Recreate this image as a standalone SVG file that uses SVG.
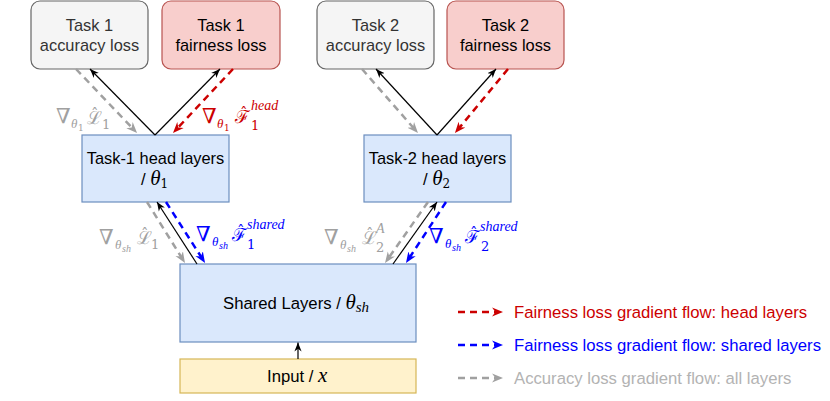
<svg xmlns="http://www.w3.org/2000/svg" width="830" height="401" viewBox="0 0 830 401">
<defs>
<style>
.lbl{font-family:"Liberation Sans",Arial,sans-serif;font-size:16.4px;text-anchor:middle}
.leg{font-family:"Liberation Sans",Arial,sans-serif;font-size:16.7px}
.m{font-family:"DejaVu Serif","Liberation Serif",serif}
.sc{font-family:"DejaVu Serif",serif}
.it{font-family:"Liberation Serif","DejaVu Serif",serif;font-style:italic}
.hat{font-family:"DejaVu Serif",serif;font-size:15px}
.gbox{fill:#f5f5f5;stroke:#666666;stroke-width:1.2}
.rbox{fill:#f8cecc;stroke:#b85450;stroke-width:1.2}
.bbox{fill:#dae8fc;stroke:#6c8ebf;stroke-width:1.2}
.ybox{fill:#fff2cc;stroke:#d6b656;stroke-width:1.2}
.blk{stroke:#000;stroke-width:1.2;fill:none;marker-end:url(#mk)}
.dg{stroke:#a0a0a0;stroke-width:2.5;stroke-dasharray:7 5;fill:none;marker-end:url(#mg)}
.dr{stroke:#cc0000;stroke-width:2.5;stroke-dasharray:7 5;fill:none;marker-end:url(#mr)}
.db{stroke:#0000ff;stroke-width:2.5;stroke-dasharray:7 5;fill:none;marker-end:url(#mb)}
.cg{fill:#a0a0a0}
.cr{fill:#cc0000}
.cb{fill:#0000ff}
</style>
<marker id="mk" viewBox="0 0 10 10" refX="10" refY="5" markerWidth="9" markerHeight="9" markerUnits="userSpaceOnUse" orient="auto"><path d="M0,1 L10,5 L0,9 L3,5 z" fill="#000"/></marker>
<marker id="mg" viewBox="0 0 10 10" refX="4.5" refY="5" markerWidth="11" markerHeight="11" markerUnits="userSpaceOnUse" orient="auto"><path d="M0,1 L10,5 L0,9 L3,5 z" fill="#a0a0a0"/></marker>
<marker id="mr" viewBox="0 0 10 10" refX="4.5" refY="5" markerWidth="11" markerHeight="11" markerUnits="userSpaceOnUse" orient="auto"><path d="M0,1 L10,5 L0,9 L3,5 z" fill="#cc0000"/></marker>
<marker id="mb" viewBox="0 0 10 10" refX="4.5" refY="5" markerWidth="11" markerHeight="11" markerUnits="userSpaceOnUse" orient="auto"><path d="M0,1 L10,5 L0,9 L3,5 z" fill="#0000ff"/></marker>
</defs>
<rect width="830" height="401" fill="#fff"/>

<g id="t1acc"><rect class="gbox" x="31" y="1" width="117" height="68" rx="9"/>
<text class="lbl" fill="#333"><tspan x="89.5" y="31">Task 1</tspan><tspan x="89.5" y="51">accuracy loss</tspan></text></g>
<g id="t1fair"><rect class="rbox" x="162" y="1" width="118" height="68" rx="9"/>
<text class="lbl" fill="#000"><tspan x="221" y="31">Task 1</tspan><tspan x="221" y="51">fairness loss</tspan></text></g>
<g id="t2acc"><rect class="gbox" x="317" y="1" width="117" height="68" rx="9"/>
<text class="lbl" fill="#333"><tspan x="375.5" y="31">Task 2</tspan><tspan x="375.5" y="51">accuracy loss</tspan></text></g>
<g id="t2fair"><rect class="rbox" x="447" y="1" width="117" height="68" rx="9"/>
<text class="lbl" fill="#000"><tspan x="505.5" y="31">Task 2</tspan><tspan x="505.5" y="51">fairness loss</tspan></text></g>

<g id="t1head"><rect class="bbox" x="82" y="135" width="147" height="67"/>
<text class="lbl" x="155.5" y="164">Task-1 head layers</text>
<text x="141" y="185"><tspan class="leg">/ </tspan><tspan class="it" font-size="21">θ</tspan><tspan class="m" font-size="12" dy="3">1</tspan></text></g>
<g id="t2head"><rect class="bbox" x="364" y="135" width="147" height="67"/>
<text class="lbl" x="437.5" y="164">Task-2 head layers</text>
<text x="423" y="185"><tspan class="leg">/ </tspan><tspan class="it" font-size="21">θ</tspan><tspan class="m" font-size="12" dy="3">2</tspan></text></g>

<g id="shared"><rect class="bbox" x="180" y="264" width="236" height="78"/>
<text x="223" y="309"><tspan class="leg">Shared Layers / </tspan><tspan class="it" font-size="21">θ</tspan><tspan class="it" font-size="15" dy="3">sh</tspan></text></g>
<g id="input"><rect class="ybox" x="180" y="359" width="236" height="34"/>
<text x="267" y="382"><tspan class="leg">Input / </tspan><tspan class="it" font-size="21">x</tspan></text></g>

<g id="connectors">
<line class="blk" x1="155" y1="135" x2="90" y2="69"/>
<line class="blk" x1="155" y1="135" x2="220" y2="69"/>
<line class="dg" x1="76" y1="69" x2="132.9" y2="128.7"/>
<line class="dr" x1="233" y1="69" x2="177.1" y2="128.6"/>
<line class="blk" x1="437" y1="135" x2="376" y2="69"/>
<line class="blk" x1="437" y1="135" x2="496" y2="69"/>
<line class="dg" x1="362" y1="69" x2="414" y2="128.5"/>
<line class="dr" x1="508" y1="69" x2="458.8" y2="128.4"/>
<line class="blk" x1="197" y1="264" x2="157" y2="202"/>
<line class="dg" x1="147" y1="202" x2="181.8" y2="257.9"/>
<line class="db" x1="166" y1="202" x2="201.8" y2="257.9"/>
<line class="blk" x1="393" y1="264" x2="437" y2="202"/>
<line class="dg" x1="428" y1="202" x2="388.5" y2="258.1"/>
<line class="db" x1="446" y1="202" x2="409.3" y2="258"/>
<line class="blk" x1="298" y1="359" x2="298" y2="342.5"/>
</g>

<g id="labels">
<text class="cg"><tspan class="m" x="56" y="123" font-size="21">∇</tspan><tspan class="it" x="71" y="128" font-size="13">θ</tspan><tspan class="m" x="78" y="131" font-size="9">1</tspan><tspan class="sc" x="87" y="124" font-size="18">ℒ</tspan><tspan class="m" x="102" y="129" font-size="13">1</tspan></text>
<text class="cg hat" x="91" y="119">ˆ</text>
<text class="cr"><tspan class="m" x="202" y="123" font-size="21">∇</tspan><tspan class="it" x="217" y="128" font-size="13">θ</tspan><tspan class="m" x="224" y="131" font-size="9">1</tspan><tspan class="sc" x="235" y="123" font-size="18">ℱ</tspan><tspan class="it" x="251" y="110" font-size="14">head</tspan><tspan class="m" x="251" y="130" font-size="13">1</tspan></text>
<text class="cr hat" x="240" y="118">ˆ</text>
<text class="cg"><tspan class="m" x="99" y="244" font-size="21">∇</tspan><tspan class="it" x="115" y="249" font-size="13">θ</tspan><tspan class="it" x="122" y="252" font-size="10">sh</tspan><tspan class="sc" x="137" y="244" font-size="18">ℒ</tspan><tspan class="m" x="151" y="249" font-size="13">1</tspan></text>
<text class="cg hat" x="141" y="239">ˆ</text>
<text class="cb"><tspan class="m" x="196" y="241" font-size="21">∇</tspan><tspan class="it" x="212" y="246" font-size="13">θ</tspan><tspan class="it" x="219" y="249" font-size="10">sh</tspan><tspan class="sc" x="232" y="241" font-size="18">ℱ</tspan><tspan class="it" x="247" y="229" font-size="14">shared</tspan><tspan class="m" x="247" y="249" font-size="13">1</tspan></text>
<text class="cb hat" x="237" y="236">ˆ</text>
<text class="cg"><tspan class="m" x="324" y="244" font-size="21">∇</tspan><tspan class="it" x="340" y="249" font-size="13">θ</tspan><tspan class="it" x="347" y="252" font-size="10">sh</tspan><tspan class="sc" x="362" y="244" font-size="18">ℒ</tspan><tspan class="it" x="376" y="233" font-size="14">A</tspan><tspan class="m" x="376" y="252" font-size="13">2</tspan></text>
<text class="cg hat" x="366" y="239">ˆ</text>
<text class="cb"><tspan class="m" x="429" y="243" font-size="21">∇</tspan><tspan class="it" x="445" y="248" font-size="13">θ</tspan><tspan class="it" x="452" y="251" font-size="10">sh</tspan><tspan class="sc" x="465" y="243" font-size="18">ℱ</tspan><tspan class="it" x="480" y="231" font-size="14">shared</tspan><tspan class="m" x="481" y="251" font-size="13">2</tspan></text>
<text class="cb hat" x="470" y="238">ˆ</text>
</g>

<g id="legend">
<line class="dr" x1="458" y1="312" x2="497" y2="312"/>
<text class="leg" x="514" y="318" fill="#cc0000">Fairness loss gradient flow: head layers</text>
<line class="db" x1="458" y1="345" x2="497" y2="345"/>
<text class="leg" x="514" y="351" fill="#0000ff">Fairness loss gradient flow: shared layers</text>
<line class="dg" x1="458" y1="378" x2="497" y2="378"/>
<text class="leg" x="514" y="384" fill="#b3b3b3">Accuracy loss gradient flow: all layers</text>
</g>
</svg>
